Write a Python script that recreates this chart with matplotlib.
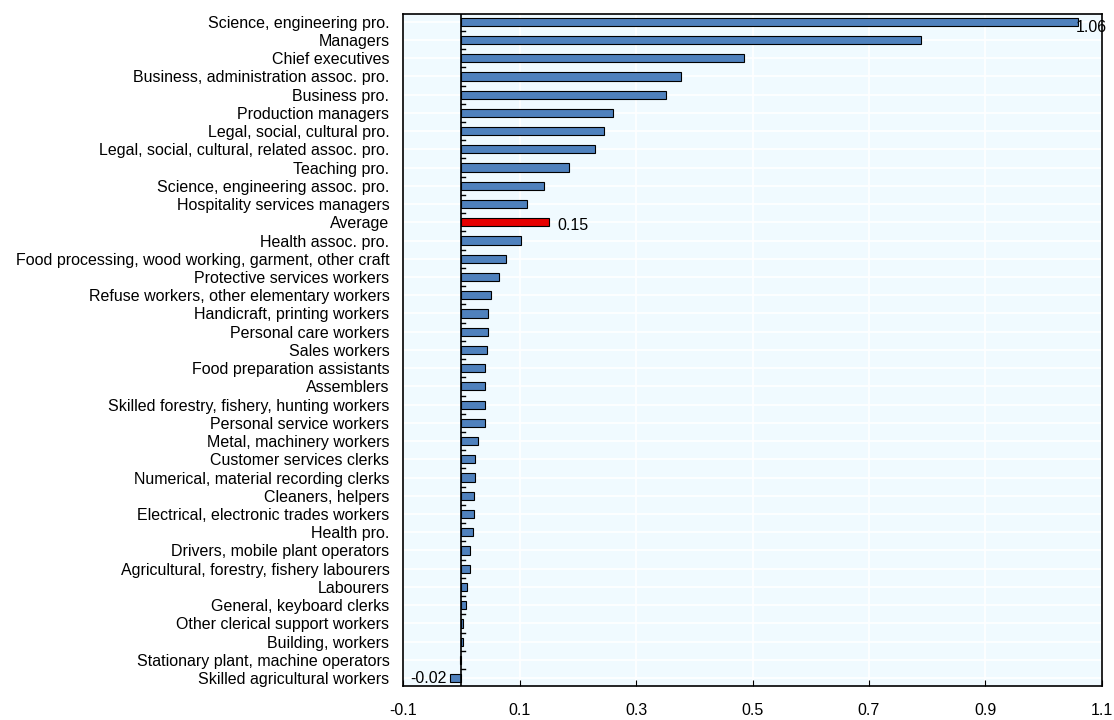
import matplotlib
matplotlib.use('Agg')
import matplotlib.pyplot as plt
import numpy as np

plt.rcParams['font.family'] = ['Liberation Sans', 'DejaVu Sans']

labels = ["Science, engineering pro.", "Managers", "Chief executives",
          "Business, administration assoc. pro.", "Business pro.", "Production managers",
          "Legal, social, cultural pro.", "Legal, social, cultural, related assoc. pro.",
          "Teaching pro.", "Science, engineering assoc. pro.", "Hospitality services managers",
          "Average", "Health assoc. pro.", "Food processing, wood working, garment, other craft",
          "Protective services workers", "Refuse workers, other elementary workers",
          "Handicraft, printing workers", "Personal care workers", "Sales workers",
          "Food preparation assistants", "Assemblers", "Skilled forestry, fishery, hunting workers",
          "Personal service workers", "Metal, machinery workers", "Customer services clerks",
          "Numerical, material recording clerks", "Cleaners, helpers",
          "Electrical, electronic trades workers", "Health pro.", "Drivers, mobile plant operators",
          "Agricultural, forestry, fishery labourers", "Labourers", "General, keyboard clerks",
          "Other clerical support workers", "Building, workers",
          "Stationary plant, machine operators", "Skilled agricultural workers"]
values = [1.06, 0.79, 0.486, 0.377, 0.352, 0.26, 0.245, 0.23, 0.185, 0.142, 0.112,
          0.15, 0.103, 0.077, 0.064, 0.05, 0.046, 0.045, 0.043, 0.041, 0.041, 0.041,
          0.04, 0.029, 0.024, 0.024, 0.022, 0.021, 0.019, 0.015, 0.014, 0.01, 0.007,
          0.003, 0.002, -0.003, -0.02]

fig = plt.figure(figsize=(11.14, 7.2), dpi=100)
ax = fig.add_axes([0.362, 0.047, 0.627, 0.934])
ax.set_facecolor('#F0FAFF')

y = np.arange(len(labels))
colors = ['#E60000' if l == "Average" else '#4F81BD' for l in labels]
ax.barh(y, values, height=0.45, color=colors, edgecolor='black', linewidth=0.8, zorder=3)
ax.set_ylim(len(labels) - 0.56, -0.44)
ax.set_xlim(-0.1, 1.1)
ax.set_xticks(np.arange(-0.1, 1.11, 0.2))
ax.set_xticklabels(["-0.1", "0.1", "0.3", "0.5", "0.7", "0.9", "1.1"], fontsize=11.5)
ax.set_yticks(y)
ax.set_yticklabels(labels, fontsize=11.5)
ax.tick_params(axis='y', length=0, pad=10)
ax.tick_params(axis='x', direction='in', length=4, pad=12)

ax.grid(True, color='white', linewidth=1.2, zorder=0)
ax.axvline(0, color='black', linewidth=1.2, zorder=4)
# small ticks on the zero line between categories
for yy in np.arange(-0.5, len(labels) - 0.5, 1):
    ax.plot([0, 0.006], [yy, yy], color='black', linewidth=1, zorder=4)

for s in ax.spines.values():
    s.set_linewidth(1.2)

ax.text(values[0] - 0.005, 0.3, "1.06", va='center', ha='left', fontsize=11.5, zorder=5)
ax.text(values[11] + 0.015, 11.2, "0.15", va='center', ha='left', fontsize=11.5, zorder=5)
ax.text(values[-1] - 0.005, len(labels) - 1, "-0.02", va='center', ha='right', fontsize=11.5, zorder=5)

fig.savefig('out.png', dpi=100)
